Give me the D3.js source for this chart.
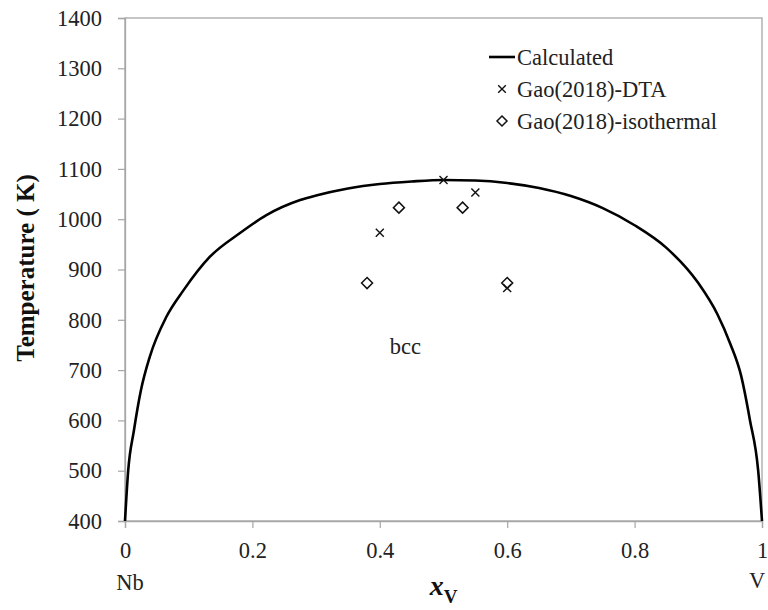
<!DOCTYPE html>
<html>
<head>
<meta charset="utf-8">
<script src="https://cdn.jsdelivr.net/npm/d3@7"></script>
<style>
  html, body { margin: 0; padding: 0; background: #fff; }
  svg { display: block; }
</style>
</head>
<body>
<svg id="chart" width="768" height="610"></svg>
<script>
// ---- data ----
const calcX = [0, 0.005, 0.014, 0.025, 0.039, 0.065, 0.092, 0.133, 0.18, 0.222, 0.275, 0.3, 0.35, 0.4, 0.45, 0.5, 0.55, 0.6, 0.65, 0.7, 0.75, 0.8, 0.85, 0.9, 0.93, 0.95, 0.967, 0.981, 0.994, 1];
const calcT = [400, 500, 580, 660, 727, 806, 859, 925, 972, 1008, 1038, 1047, 1061, 1070, 1075, 1078, 1077, 1072, 1062, 1046, 1022, 988, 943, 873, 811, 753, 690, 601, 500, 400];

const dtaX = [0.4, 0.5, 0.55, 0.6];
const dtaT = [973, 1078, 1053, 863];

const isoX = [0.38, 0.43, 0.53, 0.6];
const isoT = [873, 1023, 1023, 873];

const xTicks = [0, 0.2, 0.4, 0.6, 0.8, 1];
const yTicks = [400, 500, 600, 700, 800, 900, 1000, 1100, 1200, 1300, 1400];
const legendLabels = ['Calculated', 'Gao(2018)-DTA', 'Gao(2018)-isothermal'];

// ---- layout ----
const WIDTH = 768, HEIGHT = 610;
const margin = { top: 18, right: 6, bottom: 89, left: 125 };
const innerW = WIDTH - margin.left - margin.right;
const innerH = HEIGHT - margin.top - margin.bottom;
const AXIS = '#a6a6a6';
const FS = 22.5;
const SERIF = '"Liberation Serif", "Times New Roman", serif';

const svg = d3.select('#chart');
const g = svg.append('g').attr('transform', `translate(${margin.left},${margin.top})`);

const x = d3.scaleLinear().domain([0, 1]).range([0, innerW]);
const y = d3.scaleLinear().domain([400, 1400]).range([innerH, 0]);

// plot frame
g.append('rect')
  .attr('x', 0).attr('y', 0)
  .attr('width', innerW).attr('height', innerH)
  .attr('fill', 'none')
  .attr('stroke', AXIS)
  .attr('stroke-width', 1.3);

// ---- axes ----
const xAxis = g.append('g')
  .attr('transform', `translate(0,${innerH})`)
  .call(d3.axisBottom(x).tickValues(xTicks).tickSize(7).tickPadding(14)
    .tickFormat(d => d3.format('~g')(d)));

const yAxis = g.append('g')
  .call(d3.axisLeft(y).tickValues(yTicks).tickSize(7).tickPadding(16)
    .tickFormat(d3.format('d')));

[xAxis, yAxis].forEach(a => {
  a.attr('font-family', null).attr('font-size', null);
  a.select('.domain').attr('stroke', AXIS).attr('stroke-width', 1.3);
  a.selectAll('.tick line').attr('stroke', AXIS).attr('stroke-width', 1.2);
  a.selectAll('.tick text')
    .attr('fill', '#222')
    .style('font-family', SERIF)
    .style('font-size', FS + 'px');
});

// end labels
g.append('text')
  .attr('x', x(0) + 5).attr('y', innerH + 69)
  .attr('text-anchor', 'middle')
  .style('font-family', SERIF).style('font-size', FS + 'px')
  .attr('fill', '#222')
  .text('Nb');
g.append('text')
  .attr('x', x(1) - 5).attr('y', innerH + 67)
  .attr('text-anchor', 'middle')
  .style('font-family', SERIF).style('font-size', FS + 'px')
  .attr('fill', '#222')
  .text('V');

// axis titles
const xt = g.append('text')
  .attr('x', x(0.5)).attr('y', innerH + 74)
  .attr('text-anchor', 'middle')
  .style('font-family', SERIF)
  .attr('fill', '#111');
xt.append('tspan')
  .style('font-size', '28px').attr('font-weight', 'bold').attr('font-style', 'italic')
  .text('x');
xt.append('tspan')
  .style('font-size', '19px').attr('font-weight', 'bold').attr('dy', 8)
  .text('V');

g.append('text')
  .attr('transform', `translate(${25 - margin.left},${268 - margin.top}) rotate(-90)`)
  .attr('text-anchor', 'middle')
  .attr('dy', '0.35em')
  .style('font-family', SERIF)
  .style('font-size', '25px')
  .attr('font-weight', 'bold')
  .attr('fill', '#111')
  .text('Temperature ( K)');

// ---- calculated line ----
const calc = calcX.map((v, i) => ({ x: v, t: calcT[i] }));
g.append('path')
  .datum(calc)
  .attr('fill', 'none')
  .attr('stroke', '#000')
  .attr('stroke-width', 2.6)
  .attr('d', d3.line().x(d => x(d.x)).y(d => y(d.t)).curve(d3.curveMonotoneX));

// ---- markers ----
const crossPath = s => `M${-s},${-s}L${s},${s}M${-s},${s}L${s},${-s}`;
const diamondPath = s => `M0,${-s}L${s},0L0,${s}L${-s},0Z`;

g.selectAll('.iso')
  .data(isoX.map((v, i) => ({ x: v, t: isoT[i] })))
  .join('path')
  .attr('class', 'iso')
  .attr('transform', d => `translate(${x(d.x)},${y(d.t)})`)
  .attr('d', diamondPath(5.5))
  .attr('fill', 'none')
  .attr('stroke', '#111')
  .attr('stroke-width', 1.5);

g.selectAll('.dta')
  .data(dtaX.map((v, i) => ({ x: v, t: dtaT[i] })))
  .join('path')
  .attr('class', 'dta')
  .attr('transform', d => `translate(${x(d.x)},${y(d.t)})`)
  .attr('d', crossPath(4))
  .attr('fill', 'none')
  .attr('stroke', '#111')
  .attr('stroke-width', 1.4);

// region label
g.append('text')
  .attr('x', x(0.44)).attr('y', y(1400) + 336)
  .attr('text-anchor', 'middle')
  .style('font-family', SERIF).style('font-size', FS + 'px')
  .attr('fill', '#222')
  .text('bcc');

// ---- legend ----
const lg = svg.append('g').attr('transform', 'translate(489,57)');
lg.append('line')
  .attr('x1', 0).attr('x2', 26).attr('y1', 0).attr('y2', 0)
  .attr('stroke', '#000').attr('stroke-width', 2.6);
lg.append('path')
  .attr('transform', 'translate(13,32)')
  .attr('d', crossPath(3.8))
  .attr('stroke', '#111').attr('stroke-width', 1.4);
lg.append('path')
  .attr('transform', 'translate(13,64)')
  .attr('d', diamondPath(5))
  .attr('fill', 'none')
  .attr('stroke', '#111').attr('stroke-width', 1.5);
lg.selectAll('.lt')
  .data(legendLabels)
  .join('text')
  .attr('class', 'lt')
  .attr('x', 28)
  .attr('y', (d, i) => i * 32)
  .attr('dy', '0.35em')
  .style('font-family', SERIF)
  .style('font-size', FS + 'px')
  .attr('fill', '#222')
  .text(d => d);
</script>
</body>
</html>
